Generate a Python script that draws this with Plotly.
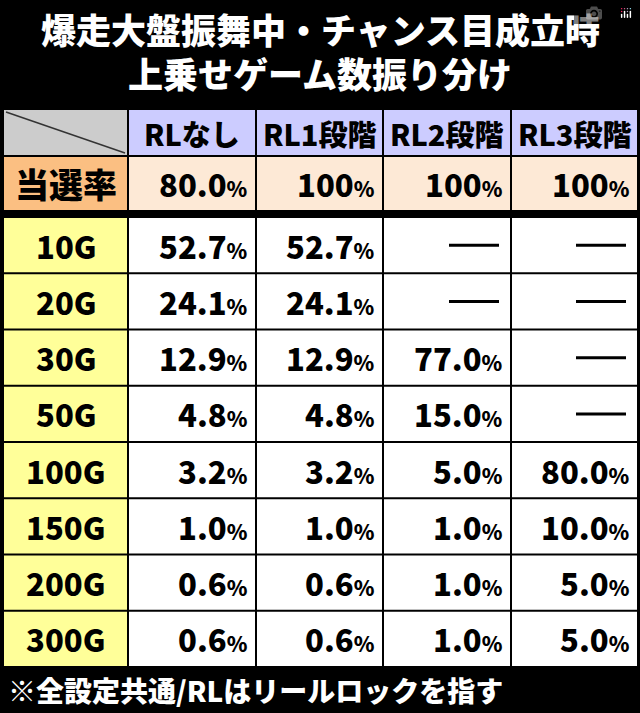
import plotly.graph_objects as go

title_lines = ["爆走大盤振舞中・チャンス目成立時", "上乗せゲーム数振り分け"]
columns = ["RLなし", "RL1段階", "RL2段階", "RL3段階"]
rate_label = "当選率"
rates = ["80.0%", "100%", "100%", "100%"]
games = ["10G", "20G", "30G", "50G", "100G", "150G", "200G", "300G"]
rl0 = ["52.7%", "24.1%", "12.9%", "4.8%", "3.2%", "1.0%", "0.6%", "0.6%"]
rl1 = ["52.7%", "24.1%", "12.9%", "4.8%", "3.2%", "1.0%", "0.6%", "0.6%"]
rl2 = ["—", "—", "77.0%", "15.0%", "5.0%", "1.0%", "1.0%", "1.0%"]
rl3 = ["—", "—", "—", "—", "80.0%", "10.0%", "5.0%", "5.0%"]
footer = "※全設定共通/RLはリールロックを指す"

FONT = "Noto Sans CJK JP"
xe = [3, 128, 256, 383, 511, 638]
fig = go.Figure()
shapes, anns = [], []

def F(size, color="black"):
    return dict(family=FONT, size=size, color=color, weight=900)

def cell(x0, x1, y0, y1, color):
    shapes.append(dict(type="rect", x0=x0 + 1, x1=x1 - 1, y0=y0, y1=y1, fillcolor=color,
                       line=dict(width=0), layer="below"))

def val(txt, x1, yc, size=31):
    if txt.endswith("%"):
        t = f"{txt[:-1]}<span style='font-size:{int(size*0.68)}px'>%</span>"
        anns.append(dict(x=x1 - 6, y=yc, text=t, xanchor="right", yanchor="middle", showarrow=False,
                         font=F(size)))
    else:
        shapes.append(dict(type="line", x0=x1 - 62, x1=x1 - 12, y0=yc, y1=yc, line=dict(color="black", width=3)))

hy0, hy1 = 110, 155
cell(xe[0], xe[1], hy0, hy1, "#cccccc")
shapes.append(dict(type="line", x0=xe[0] + 3, y0=hy0 + 2, x1=xe[1] - 3, y1=hy1 - 2, line=dict(color="#333", width=1.5)))
for i, c in enumerate(columns):
    cell(xe[i + 1], xe[i + 2], hy0, hy1, "#ccccff")
    anns.append(dict(x=(xe[i + 1] + xe[i + 2]) / 2, y=(hy0 + hy1) / 2, text=c, showarrow=False, font=F(29)))
ry0, ry1 = 157, 210
cell(xe[0], xe[1], ry0, ry1, "#fbbf82")
anns.append(dict(x=(xe[0] + xe[1]) / 2, y=(ry0 + ry1) / 2, text=rate_label, showarrow=False, font=F(34)))
for i, r in enumerate(rates):
    cell(xe[i + 1], xe[i + 2], ry0, ry1, "#fde9d6")
    val(r, xe[i + 2], (ry0 + ry1) / 2)
dy0, rh = 218, 56.25
cols = [rl0, rl1, rl2, rl3]
for j, g in enumerate(games):
    y0 = dy0 + j * rh
    y1 = y0 + rh - 2
    yc = (y0 + y1) / 2
    cell(xe[0], xe[1], y0, y1, "#ffff99")
    anns.append(dict(x=(xe[0] + xe[1]) / 2, y=yc, text=g, showarrow=False, font=F(31)))
    for i in range(4):
        cell(xe[i + 1], xe[i + 2], y0, y1, "white")
        val(cols[i][j], xe[i + 2], yc)
for k, t in enumerate(title_lines):
    anns.append(dict(x=320, y=28 + k * 44, text=t, showarrow=False, font=F(35, "white")))
anns.append(dict(x=6, y=690, text=footer, xanchor="left", showarrow=False, font=F(28, "white")))

fig.update_layout(width=640, height=713, margin=dict(l=0, r=0, t=0, b=0),
                  paper_bgcolor="black", plot_bgcolor="black", shapes=shapes, annotations=anns,
                  xaxis=dict(range=[0, 640], visible=False, fixedrange=True),
                  yaxis=dict(range=[713, 0], visible=False, fixedrange=True), showlegend=False)
fig.write_html("out.html", post_script="document.body.style.margin='0';document.body.style.overflow='hidden';")
